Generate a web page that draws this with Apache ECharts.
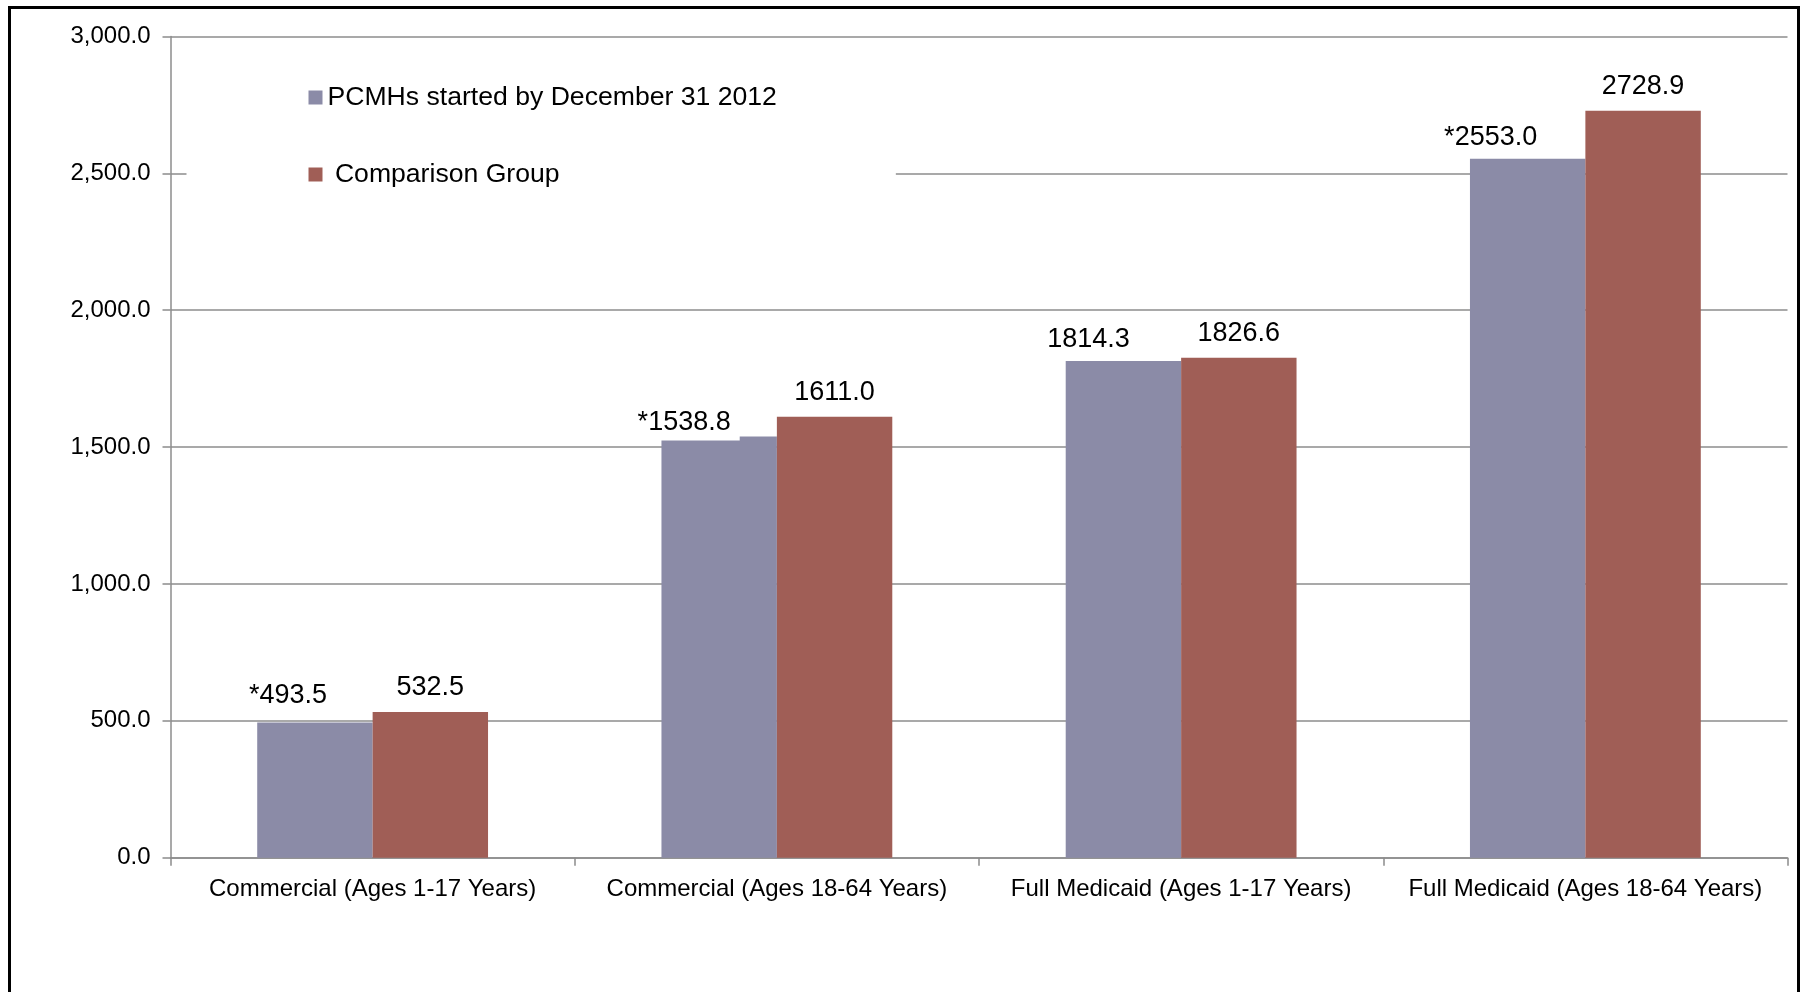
<!DOCTYPE html>
<html>
<head>
<meta charset="utf-8">
<script src="https://cdn.jsdelivr.net/npm/echarts@6/dist/echarts.min.js"></script>
<style>
  html, body { margin: 0; padding: 0; background: #fff; overflow: hidden; }
  #chart { position: absolute; left: 0; top: 0; width: 1803px; height: 992px; }
  #frame { position: absolute; left: 8px; top: 6px; width: 1792px; height: 1000px; box-sizing: border-box;
           border: 3px solid #000; border-bottom: none; pointer-events: none; }
</style>
</head>
<body>
<div id="chart"></div>
<div id="frame"></div>
<script>
const categories = [
  'Commercial (Ages 1-17 Years)',
  'Commercial (Ages 18-64 Years)',
  'Full Medicaid (Ages 1-17 Years)',
  'Full Medicaid (Ages 18-64 Years)'
];
const seriesNames = ['PCMHs started by December 31 2012', 'Comparison Group'];
const pcmhValues = [493.5, 1538.8, 1814.3, 2553.0];
const comparisonValues = [532.5, 1611.0, 1826.6, 2728.9];
const pcmhSignificance = ['*', '*', '', '*'];
const yMin = 0, yMax = 3000, yInterval = 500;

const FONT = "'Liberation Sans', Arial, Helvetica, sans-serif";
const GRAY = '#8c8c8c';

// label placement tweaks (style only) for the PCMH labels
const pcmhLabelOffsets = [[-27, -6], [-35, 8], [-35, 0], [-37, 0]];

const chart = echarts.init(document.getElementById('chart'), null, { renderer: 'canvas' });

const labelBase = {
  show: true,
  position: 'top',
  fontSize: 27,
  fontFamily: FONT,
  color: '#000',
  backgroundColor: '#fff',
  padding: [8, 9, 4, 9]
};

chart.setOption({
  animation: false,
  backgroundColor: '#fff',
  textStyle: { fontFamily: FONT },
  grid: { left: 170.5, right: 15.5, top: 36.5, bottom: 134.3, containLabel: false },
  legend: {
    orient: 'vertical',
    left: 186.5,
    top: 50,
    padding: [34, 119, 42, 122],
    backgroundColor: '#fff',
    itemWidth: 14,
    itemHeight: 14,
    itemGap: 50,
    icon: 'rect',
    textStyle: { fontSize: 26.6, color: '#000', fontFamily: FONT },
    formatter: function (name) { return name === seriesNames[1] ? ' ' + name : name; },
    data: seriesNames
  },
  xAxis: {
    type: 'category',
    data: categories,
    axisLine: { show: true, lineStyle: { color: GRAY, width: 1.5 } },
    axisTick: { show: true, length: 8, alignWithLabel: false, interval: 0, lineStyle: { color: GRAY, width: 1.5 } },
    axisLabel: { fontSize: 24, color: '#000', fontFamily: FONT, margin: 20, interval: 0 },
    splitLine: { show: false }
  },
  yAxis: {
    type: 'value',
    min: yMin,
    max: yMax,
    interval: yInterval,
    axisLine: { show: true, lineStyle: { color: GRAY, width: 1.5 } },
    axisTick: { show: true, length: 8, lineStyle: { color: GRAY, width: 1.5 } },
    axisLabel: {
      fontSize: 24, color: '#000', fontFamily: FONT, margin: 20,
      padding: [5, 0, 0, 0],
      formatter: function (v) {
        return v.toLocaleString('en-US', { minimumFractionDigits: 1, maximumFractionDigits: 1 });
      }
    },
    splitLine: { show: true, lineStyle: { color: GRAY, width: 1.5 } }
  },
  series: [
    {
      name: seriesNames[0],
      type: 'bar',
      barGap: '0%',
      barCategoryGap: '42.9%',
      itemStyle: { color: '#8b8ba7' },
      data: pcmhValues.map(function (v, i) {
        return { value: v, label: { offset: pcmhLabelOffsets[i] } };
      }),
      label: Object.assign({}, labelBase, {
        distance: 4,
        formatter: function (p) { return pcmhSignificance[p.dataIndex] + p.value.toFixed(1); }
      })
    },
    {
      name: seriesNames[1],
      type: 'bar',
      barGap: '0%',
      barCategoryGap: '42.9%',
      itemStyle: { color: '#a05e56' },
      data: comparisonValues,
      label: Object.assign({}, labelBase, {
        distance: 6.5,
        formatter: function (p) { return p.value.toFixed(1); }
      })
    }
  ]
});
</script>
</body>
</html>
